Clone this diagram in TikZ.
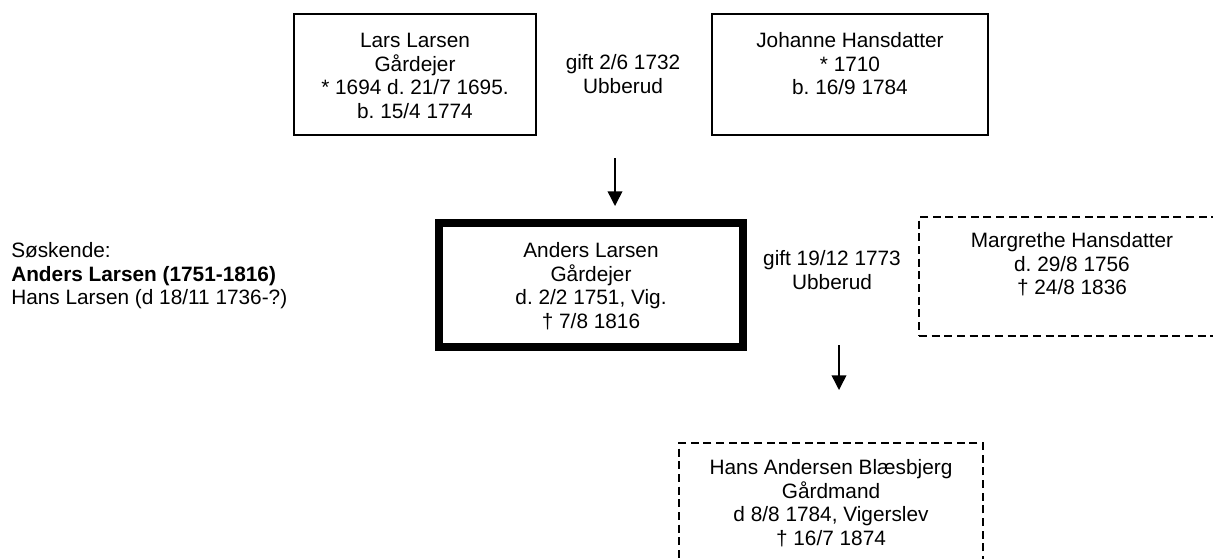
\documentclass[tikz,border=0pt]{standalone}
\usepackage{fontspec}
\setmainfont{Liberation Sans}
\usetikzlibrary{arrows.meta}
\frenchspacing
\newcommand{\cardlines}[1]{\parbox[t]{240pt}{\centering #1}}

\begin{document}
\begin{tikzpicture}[x=0.75pt, y=-0.75pt,
  every node/.style={font=\fontsize{15.6pt}{17.8pt}\selectfont, inner sep=0pt},
  famcard/.style={draw, line width=1.1pt},
  maincard/.style={draw, line width=6pt},
  partcard/.style={draw, line width=1.1pt, dash pattern=on 6pt off 3.5pt},
  cardtext/.style={anchor=base},
  arr/.style={-{Triangle[length=11pt,width=11pt]}, line width=1.1pt}]
\clip (0,0) rectangle (1213,558);
% parents
\node[famcard, minimum width=181.5pt, minimum height=90.75pt] (lars) at (415,74.5) {};
\node[cardtext] (larstxt) at (415,47.5) {\cardlines{Lars Larsen\\Gårdejer\\{}* 1694 d. 21/7 1695.\\b. 15/4 1774}};
\node[famcard, minimum width=207pt, minimum height=90.75pt] (johanne) at (850,74.5) {};
\node[cardtext] (johannetxt) at (850,47.5) {\cardlines{Johanne Hansdatter\\{}* 1710\\b. 16/9 1784}};
\node[cardtext] (gift1) at (623,69.5) {\cardlines{gift 2/6 1732\\Ubberud}};
% main person and spouse
\node[maincard, minimum width=228pt, minimum height=93pt] (anders) at (591,285) {};
\node[cardtext] (anderstxt) at (591,257.5) {\cardlines{Anders Larsen\\Gårdejer\\d. 2/2 1751, Vig.\\† 7/8 1816}};
\node[cardtext] (gift2) at (832,265.5) {\cardlines{gift 19/12 1773\\Ubberud}};
\node[partcard, minimum width=229.5pt, minimum height=89.25pt] (margrethe) at (1072,276.5) {};
\node[cardtext] (margrethetxt) at (1072,247.5) {\cardlines{Margrethe Hansdatter\\d. 29/8 1756\\† 24/8 1836}};
% child
\node[partcard, minimum width=228pt, minimum height=90.75pt] (hans) at (831,503.5) {};
\node[cardtext] (hanstxt) at (831,474.5) {\cardlines{Hans Andersen Blæsbjerg\\Gårdmand\\d 8/8 1784, Vigerslev\\† 16/7 1874}};
% siblings
\node[anchor=base west] (sosk) at (11,257.5) {\parbox[t]{250pt}{\raggedright Søskende:\\\textbf{Anders Larsen (1751-1816)}\\Hans Larsen (d 18/11 1736-?)}};
% arrows
\coordinate (a1s) at (615,158);
\coordinate (a1e) at (615,206);
\coordinate (a2s) at (839,345);
\coordinate (a2e) at (839,390);
\draw[arr] (a1s) -- (a1e);
\draw[arr] (a2s) -- (a2e);
\end{tikzpicture}
\end{document}
